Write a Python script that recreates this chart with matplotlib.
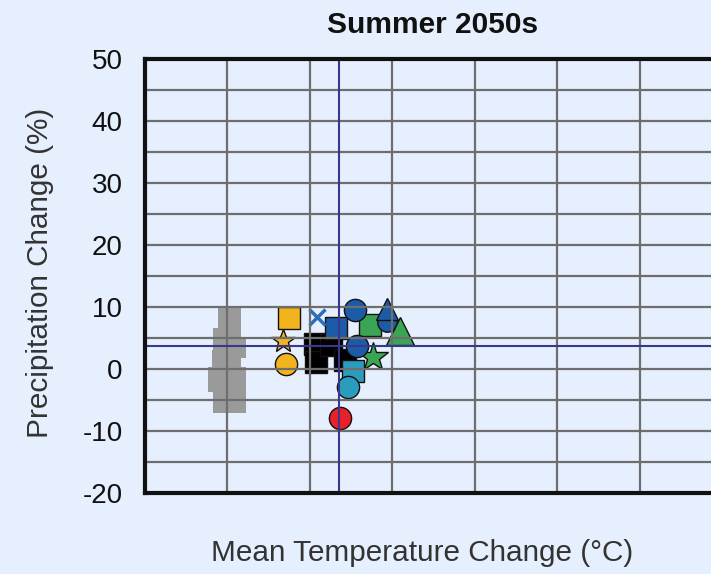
import matplotlib
matplotlib.use("Agg")
import matplotlib.pyplot as plt

plt.rcParams['font.family'] = ['Liberation Sans', 'DejaVu Sans']

# ---------------- data ----------------
title_text = "Summer 2050s"
x_label = "Mean Temperature Change (\u00b0C)"
y_label = "Precipitation Change (%)"

y_tick_values = [-20, -10, 0, 10, 20, 30, 40, 50]
y_tick_labels = ["-20", "-10", "0", "10", "20", "30", "40", "50"]

# natural variability envelope (grey)
nat_var_temp = [-0.12, 0.17, 0.17, 0.23, 0.23, 0.17, 0.17, 0.23, 0.23,
                -0.17, -0.17, -0.24, -0.24, -0.19, -0.19, -0.17, -0.17, -0.12]
nat_var_precip = [10.2, 10.2, 5.2, 5.2, 1.7, 1.7, 0.4, 0.4, -7.1,
                  -7.1, -3.7, -3.7, 0.4, 0.4, 3.0, 3.0, 6.6, 6.6]

# model projections
model_temp = [1.06, 1.08, 1.26, 1.43,
              0.71, 0.68, 0.75,
              1.76, 1.32, 1.73, 1.93, 1.93, 2.09,
              1.55, 1.57, 1.52, 1.46, 1.37, 1.09]
model_precip = [4.0, 1.1, 3.9, 1.5,
                0.8, 4.5, 8.3,
                1.9, 6.6, 7.1, 7.6, 9.6, 6.2,
                9.5, 3.7, -0.3, -2.9, -7.9, 8.4]
model_marker = ['s', 's', 's', 's',
                'o', '*', 's',
                '*', 's', 's', 'o', '^', '^',
                'o', 'o', 's', 'o', 'o', 'x']
model_color = ['#000000', '#000000', '#000000', '#000000',
               '#F2B31C', '#F2B31C', '#F2B31C',
               '#3AA655', '#1C5BA6', '#3AA655', '#1C5BA6', '#1C5BA6', '#3AA655',
               '#1C5BA6', '#1C5BA6', '#2A9DBF', '#2A9DBF', '#E8202A', '#2E6DBA']
model_size = [16, 16, 16, 16,
              16, 18, 16,
              22, 16, 16, 14, 16, 20,
              16, 16, 16, 16, 16, 12]

mean_temp = 1.35
mean_precip = 3.7

# ---------------- figure ----------------
bg = '#E6EFFD'
fig = plt.figure(figsize=(7.11, 5.74), dpi=100, facecolor=bg)
ax = fig.add_axes([145 / 711, 81 / 574, 577 / 711, 434 / 574])
ax.set_facecolor(bg)

ax.fill(nat_var_temp, nat_var_precip, color='#9A9A9A', lw=0, zorder=1)

for t, p, m, c, s in zip(model_temp, model_precip, model_marker, model_color, model_size):
    if m == 'x':
        ax.plot(t, p, marker=m, color=c, markersize=s, mew=2.5, ls='none', zorder=2)
    else:
        ax.plot(t, p, marker=m, color=c, markersize=s, mec='#111111', mew=1.0,
                ls='none', zorder=2)

ax.set_xlim(-1, 6)
ax.set_ylim(-20, 50)
ax.set_xticks(range(-1, 7))
ax.set_xticklabels([])
grid_y = list(range(-20, 51, 5))
ax.set_yticks(grid_y)
ax.set_yticklabels([y_tick_labels[y_tick_values.index(v)] if v in y_tick_values else ''
                    for v in grid_y])
ax.tick_params(length=0, pad=16, labelsize=20, labelcolor='#111111')
ax.set_axisbelow(False)
ax.grid(True, color='#6E6E6E', lw=1.6, zorder=3)

ax.axvline(mean_temp, color='#38378C', lw=1.5, zorder=4)
ax.axhline(mean_precip, color='#38378C', lw=1.5, zorder=4)

for sp in ['left', 'bottom', 'top']:
    ax.spines[sp].set_linewidth(3)
    ax.spines[sp].set_color('#111111')
    ax.spines[sp].set_zorder(5)
ax.spines['right'].set_visible(False)

fig.text(433 / 711, 1 - 25 / 574, title_text, ha='center', va='center',
         fontsize=21.5, fontweight='bold', color='#111111')
fig.text(422 / 711, 1 - 553 / 574, x_label, ha='center', va='center',
         fontsize=21.4, color='#333333')
fig.text(40 / 711, 1 - 273 / 574, y_label, ha='center', va='center',
         rotation=90, fontsize=21.4, color='#333333')

fig.savefig('out.png', dpi=100, facecolor=bg)
